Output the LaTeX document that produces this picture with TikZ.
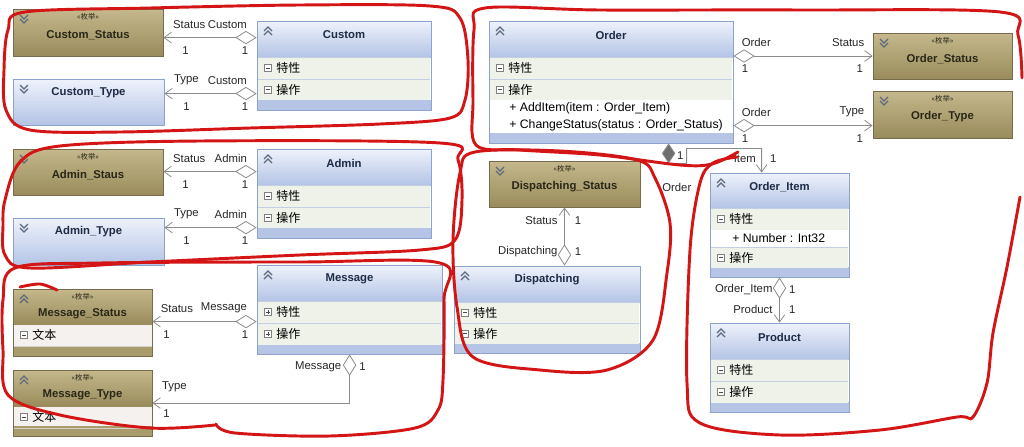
\documentclass[tikz,border=0pt]{standalone}
\usepackage{fontspec}
\setmainfont{Liberation Sans}
\newfontfamily\cjk{Noto Sans CJK SC}
\usetikzlibrary{arrows.meta,positioning,calc,fit}
\definecolor{hdrtop}{HTML}{EEF2FB}
\definecolor{hdrbot}{HTML}{B4C4E6}
\definecolor{clsline}{HTML}{8DA3CC}
\definecolor{rowfill}{HTML}{EFF2E8}
\definecolor{rowsep}{HTML}{C5CFE2}
\definecolor{stripfill}{HTML}{B6C5E5}
\definecolor{enumtop}{HTML}{C4B88C}
\definecolor{enumbot}{HTML}{998B5B}
\definecolor{enumline}{HTML}{766C4B}
\definecolor{enumrow}{HTML}{F4F1EF}
\definecolor{enumstrip}{HTML}{A89B6C}
\definecolor{enumsep}{HTML}{D8D0C8}
\definecolor{conn}{HTML}{8C8C8C}
\definecolor{diamgray}{HTML}{6E6E6E}
\definecolor{pen}{HTML}{D41515}
\definecolor{titletext}{HTML}{1E2B45}
\definecolor{enumtext}{HTML}{2A2718}
\definecolor{icongray}{HTML}{5E6A7E}

\tikzset{
  title/.style={font=\fontsize{8.5}{9}\selectfont\bfseries, text=titletext, inner sep=0pt},
  stereo/.style={font=\fontsize{5.5}{6}\selectfont\cjk, text=enumtext, inner sep=0pt},
  rowtext/.style={font=\fontsize{9}{10}\selectfont\cjk, anchor=west, inner sep=0pt},
  member/.style={font=\fontsize{9.2}{10}\selectfont, anchor=west, inner sep=0pt},
  lbl/.style={font=\fontsize{8.5}{10}\selectfont, text=black!85, inner sep=1pt},
  lblup/.style={lbl, yshift=5.5pt},
  lbldn/.style={lbl, yshift=-5.5pt},
  agg/.style={draw=conn, line width=0.6pt,
    {Diamond[fill=white,length=16pt,width=10pt]}-{Straight Barb[length=5.5pt,width=8pt]}},
  comp/.style={draw=conn, line width=0.6pt,
    {Diamond[fill=diamgray,length=15pt,width=10pt]}-{Straight Barb[length=5.5pt,width=8pt]}},
  pen/.style={draw=pen, line width=2.2pt, line cap=round, line join=round},
  icon/.style={draw=icongray, line width=0.9pt},
  chevup/.pic={\draw[icon] (-4,0) -- (0,-4) -- (4,0) (-4,4) -- (0,0) -- (4,4);},
  chevdown/.pic={\draw[icon] (-4,-4) -- (0,0) -- (4,-4) (-4,0) -- (0,4) -- (4,0);},
  minusbox/.pic={\draw[draw=gray, fill=white, line width=0.5pt] (-3.5,-3.5) rectangle (3.5,3.5);
    \draw[draw=black!70, line width=0.6pt] (-2,0) -- (2,0);},
  plusbox/.pic={\draw[draw=gray, fill=white, line width=0.5pt] (-3.5,-3.5) rectangle (3.5,3.5);
    \draw[draw=black!70, line width=0.6pt] (-2,0) -- (2,0) (0,-2) -- (0,2);}
}

% name, x1, y1, x2, y2, header bottom, title
\newcommand\umlclass[7]{%
  \fill[white] (#2,#6) rectangle (#4,#5);
  \shade[top color=hdrtop,bottom color=hdrbot] (#2,#3) rectangle (#4,#6);
  \fill[stripfill] (#2,#5-10) rectangle (#4,#5);
  \node[fit={(#2,#3)(#4,#5)}, inner sep=0pt, draw=clsline, line width=0.6pt] (#1) {};
  \node[title] (#1-name) at ({(#2+#4)/2},#3+14) {#7};
  \pic at (#2+11,#3+10) {chevup};
}
% name, x1, y1, x2, y2, icon, text
\newcommand\umlrow[7]{%
  \fill[rowfill] (#2+1,#3) rectangle (#4-1,#5);
  \draw[rowsep] (#2+1,#3) -- (#4-1,#3);
  \pic at (#2+11,{(#3+#5)/2}) {#6};
  \node[rowtext] (#1) at (#2+19,{(#3+#5)/2}) {#7};
}
% name, x1, y1, x2, y2, title
\newcommand\umlenum[6]{%
  \shade[top color=enumtop,bottom color=enumbot] (#2,#3) rectangle (#4,#5);
  \node[fit={(#2,#3)(#4,#5)}, inner sep=0pt, draw=enumline, line width=0.6pt] (#1) {};
  \node[stereo] (#1-st) at ({(#2+#4)/2},#3+8) {«枚举»};
  \node[title, text=enumtext] (#1-name) at ({(#2+#4)/2},#3+26) {#6};
  \pic at (#2+11,#3+10) {chevdown};
}
% name, x1, y1, x2, y2, title
\newcommand\umltype[6]{%
  \shade[top color=hdrtop,bottom color=hdrbot] (#2,#3) rectangle (#4,#5);
  \node[fit={(#2,#3)(#4,#5)}, inner sep=0pt, draw=clsline, line width=0.6pt] (#1) {};
  \node[title] (#1-name) at ({(#2+#4)/2},#3+14) {#6};
  \pic at (#2+11,#3+10) {chevdown};
}
% name, x1, y1, x2, y2, header bottom, title
\newcommand\umlenumx[7]{%
  \fill[enumrow] (#2,#6) rectangle (#4,#5);
  \shade[top color=enumtop,bottom color=enumbot] (#2,#3) rectangle (#4,#6);
  \fill[enumstrip] (#2,#5-10) rectangle (#4,#5);
  \draw[enumsep] (#2,#6+22) -- (#4,#6+22);
  \node[fit={(#2,#3)(#4,#5)}, inner sep=0pt, draw=enumline, line width=0.6pt] (#1) {};
  \node[stereo] (#1-st) at ({(#2+#4)/2},#3+8) {«枚举»};
  \node[title, text=enumtext] (#1-name) at ({(#2+#4)/2},#3+25) {#7};
  \pic at (#2+11,#3+10) {chevup};
  \pic at (#2+11,#6+11) {minusbox};
  \node[rowtext] (#1-text) at (#2+19,#6+11) {文本};
}

\begin{document}
\begin{tikzpicture}[x=0.75pt,y=-0.75pt]
\fill[white] (0,0) rectangle (1024,446);
\useasboundingbox (0,0) rectangle (1024,446);

% custom
\umlenum{custst}{13}{9}{163}{56}{Custom\_Status}
\umltype{custtype}{13}{79}{164}{125}{Custom\_Type}
\umlclass{custom}{257}{21}{431}{110}{57}{Custom}
\umlrow{custom-attr}{257}{57}{431}{79}{minusbox}{特性}
\umlrow{custom-ops}{257}{79}{431}{100}{minusbox}{操作}

% admin
\umlenum{adminst}{13}{149}{163}{195}{Admin\_Staus}
\umltype{admintype}{13}{218}{164}{265}{Admin\_Type}
\umlclass{admin}{257}{149}{431}{238}{185}{Admin}
\umlrow{admin-attr}{257}{185}{431}{207}{minusbox}{特性}
\umlrow{admin-ops}{257}{207}{431}{228}{minusbox}{操作}

% message
\umlenumx{msgst}{13}{289}{152}{356}{324}{Message\_Status}
\umlenumx{msgtype}{13}{370}{152}{436}{406}{Message\_Type}
\umlclass{message}{257}{265}{442}{354}{301}{Message}
\umlrow{message-attr}{257}{301}{442}{323}{plusbox}{特性}
\umlrow{message-ops}{257}{323}{442}{345}{plusbox}{操作}

% order
\umlclass{order}{489}{21}{733}{143}{57}{Order}
\umlrow{order-attr}{489}{57}{733}{79}{minusbox}{特性}
\umlrow{order-ops}{489}{79}{733}{100}{minusbox}{操作}
\node[member] (order-m1) at (509,108) {+ AddItem(item : Order\_Item)};
\node[member] (order-m2) at (509,125) {+ ChangeStatus(status : Order\_Status)};
\umlenum{ordst}{873}{33}{1012}{79}{Order\_Status}
\umlenum{ordtype}{873}{91}{1012}{138}{Order\_Type}

% dispatching
\umlenum{dispst}{489}{161}{640}{207}{Dispatching\_Status}
\umlclass{dispatching}{454}{266}{640}{353}{302}{Dispatching}
\umlrow{disp-attr}{454}{302}{640}{323}{minusbox}{特性}
\umlrow{disp-ops}{454}{323}{640}{344}{minusbox}{操作}

% order item, product
\umlclass{orditem}{710}{173}{849}{277}{208}{Order\_Item}
\umlrow{orditem-attr}{710}{208}{849}{230}{minusbox}{特性}
\node[member] (orditem-m1) at (732,238) {+ Number : Int32};
\umlrow{orditem-ops}{710}{247}{849}{268}{minusbox}{操作}
\umlclass{product}{710}{323}{849}{412}{359}{Product}
\umlrow{product-attr}{710}{359}{849}{381}{minusbox}{特性}
\umlrow{product-ops}{710}{381}{849}{403}{minusbox}{操作}

% connectors
\coordinate (c1) at ($(custom.north west)+(0,17)$);
\coordinate (c2) at ($(custom.north west)+(0,73)$);
\coordinate (a1) at ($(admin.north west)+(0,23)$);
\coordinate (a2) at ($(admin.north west)+(0,79)$);
\coordinate (m1) at ($(message.north west)+(0,57)$);
\coordinate (m2) at ($(message.south west)+(93,0)$);
\coordinate (o2) at ($(order.north east)+(0,105)$);
\coordinate (oc) at ($(order.south west)+(180,0)$);
\coordinate (oi) at ($(orditem.north west)+(52,0)$);

\draw[agg] (c1) node[lblup, anchor=south east, xshift=-6pt] {Custom} node[lbldn, anchor=north east, xshift=-5pt] {1}
  -- (c1 -| custst.east) node[lblup, anchor=south west, xshift=6pt] {Status} node[lbldn, anchor=north west, xshift=13pt] {1};
\draw[agg] (c2) node[lblup, anchor=south east, xshift=-6pt] {Custom} node[lbldn, anchor=north east, xshift=-5pt] {1}
  -- (c2 -| custtype.east) node[lblup, anchor=south west, xshift=6pt] {Type} node[lbldn, anchor=north west, xshift=13pt] {1};
\draw[agg] (a1) node[lblup, anchor=south east, xshift=-6pt] {Admin} node[lbldn, anchor=north east, xshift=-5pt] {1}
  -- (a1 -| adminst.east) node[lblup, anchor=south west, xshift=6pt] {Status} node[lbldn, anchor=north west, xshift=13pt] {1};
\draw[agg] (a2) node[lblup, anchor=south east, xshift=-6pt] {Admin} node[lbldn, anchor=north east, xshift=-5pt] {1}
  -- (a2 -| admintype.east) node[lblup, anchor=south west, xshift=6pt] {Type} node[lbldn, anchor=north west, xshift=13pt] {1};
\draw[agg] (m1) node[lblup, anchor=south east, xshift=-6pt] {Message} node[lbldn, anchor=north east, xshift=-5pt] {1}
  -- (m1 -| msgst.east) node[lblup, anchor=south west, xshift=5pt] {Status} node[lbldn, anchor=north west, xshift=7pt] {1};
\draw[agg] (m2) node[lbl, anchor=east, xshift=-5pt, yshift=-9pt] {Message} node[lbl, anchor=west, xshift=6pt, yshift=-9pt] {1}
  |- (msgtype.east) node[lbl, anchor=south west, xshift=6pt, yshift=7pt] {Type} node[lbl, anchor=north west, xshift=7pt, yshift=-4pt] {1};
\draw[agg] (dispst.south |- dispatching.north) node[lbl, anchor=east, xshift=-4pt, yshift=10.5pt] {Dispatching} node[lbl, anchor=west, xshift=6.5pt, yshift=10.5pt] {1}
  -- (dispst.south) node[lbl, anchor=east, xshift=-4pt, yshift=-10pt] {Status} node[lbl, anchor=west, xshift=6.5pt, yshift=-10pt] {1};
\draw[agg] (order.east |- ordst.west) node[lblup, anchor=south west, xshift=5pt] {Order} node[lbldn, anchor=north west, xshift=5pt] {1}
  -- (ordst.west) node[lblup, anchor=south east, xshift=-5pt] {Status} node[lbldn, anchor=north east, xshift=-6pt] {1};
\draw[agg] (o2) node[lblup, anchor=south west, xshift=5pt] {Order} node[lbldn, anchor=north west, xshift=5pt] {1}
  -- (o2 -| ordtype.west) node[lblup, anchor=south east, xshift=-5pt] {Type} node[lbldn, anchor=north east, xshift=-6pt] {1};
\draw[comp] (oc) node[lbl, anchor=west, xshift=5pt, yshift=-9pt] {1} node[lbl, anchor=west, xshift=-6pt, yshift=-33pt] {Order}
  -- ++(0,20) -- ++(18,0) -- ++(0,-15) -- ($(oi)+(0,-24)$)
  -- (oi) node[lbl, anchor=east, xshift=-3pt, yshift=10.5pt] {Item} node[lbl, anchor=west, xshift=5pt, yshift=10.5pt] {1};
\draw[agg] (orditem.south) node[lbl, anchor=east, xshift=-4pt, yshift=-9pt] {Order\_Item} node[lbl, anchor=west, xshift=6pt, yshift=-9pt] {1}
  -- (product.north) node[lbl, anchor=east, xshift=-4pt, yshift=10pt] {Product} node[lbl, anchor=west, xshift=6pt, yshift=10pt] {1};

% red pen marks
\draw[pen] plot[smooth cycle, tension=0.55] coordinates {(8,30) (25,12) (150,8) (300,5) (430,6) (460,18) (468,60) (465,100) (450,118) (380,124) (250,128) (120,132) (30,130) (6,110) (4,70)};
\draw[pen] plot[smooth cycle, tension=0.55] coordinates {(5,200) (20,162) (60,146) (200,141) (440,143) (458,160) (462,200) (455,240) (420,250) (300,255) (150,262) (30,268) (5,255) (3,225)};
\draw[pen] plot[smooth, tension=0.55] coordinates {(215,425) (150,428) (60,415) (8,395) (3,350) (3,300) (15,268) (100,263) (300,262) (440,263) (444,300) (443,380) (438,410) (415,428) (330,436) (235,433) (216,424)};
\draw[pen] plot[smooth, tension=0.5] coordinates {(20,287) (40,284) (57,290)};
\draw[pen] plot[smooth cycle, tension=0.55] coordinates {(460,173) (475,152) (560,151) (637,160) (655,178) (670,223) (667,273) (653,340) (607,370) (540,370) (473,357) (457,307) (453,240)};
\draw[pen] plot[smooth, tension=0.55] coordinates {(1022,78) (1018,35) (1000,12) (800,10) (600,10) (485,8) (474,30) (473,100) (476,145) (520,150) (600,155) (680,165) (712,164) (738,152)};
\draw[pen] plot[smooth, tension=0.55] coordinates {(737,157) (713,163) (700,183) (690,250) (687,383) (700,423) (780,435) (880,430) (957,417) (973,417) (987,383) (993,333) (1007,267) (1020,197)};
\end{tikzpicture}
\end{document}
